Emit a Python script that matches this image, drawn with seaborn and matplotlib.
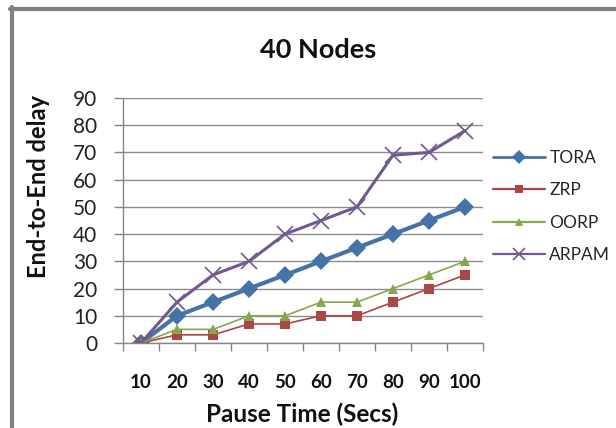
import numpy as np
import pandas as pd
import matplotlib
matplotlib.use("Agg")
import matplotlib.pyplot as plt
from matplotlib.lines import Line2D
import seaborn as sns

categories = ["10", "20", "30", "40", "50", "60", "70", "80", "90", "100"]
tora = [0, 10, 15, 20, 25, 30, 35, 40, 45, 50]
zrp = [0, 3, 3, 7, 7, 10, 10, 15, 20, 25]
oorp = [0, 5, 5, 10, 10, 15, 15, 20, 25, 30]
arpam = [0, 15, 25, 30, 40, 45, 50, 69, 70, 78]
y_ticks = [0, 10, 20, 30, 40, 50, 60, 70, 80, 90]

sns.set_theme(style="white")
plt.rcParams["font.family"] = ["Lato", "DejaVu Sans"]

W, H = 616, 428
fig = plt.figure(figsize=(W / 100, H / 100), dpi=100)
fig.patch.set_facecolor("white")
ax = fig.add_axes([123 / W, 1 - 343 / H, 360 / W, 245 / H])

pos = np.arange(len(categories))
series = [
    ("TORA", tora, "#4572A7", "D", 3.0, 9.5, 0),
    ("ZRP", zrp, "#AA4643", "s", 1.2, 7, 0),
    ("OORP", oorp, "#89A54E", "^", 1.2, 7.5, 0),
    ("ARPAM", arpam, "#71588F", "x", 2.2, 11, 1.2),
]
handles = []
for name, vals, col, mk, lw, ms, mew in series:
    df = pd.DataFrame({"x": pos, "y": vals})
    kw = dict(markeredgewidth=mew) if mk == "x" else dict(markeredgewidth=0)
    sns.lineplot(data=df, x="x", y="y", ax=ax, color=col, linewidth=lw,
                 marker=mk, markersize=ms, markeredgecolor=col, label=name, **kw)
    handles.append(Line2D([0], [0], color=col, linewidth=1.6 if mk != "D" else 2.0,
                          marker=mk, markersize=ms * 0.8, markeredgecolor=col,
                          markeredgewidth=mew if mk == "x" else 0))
ax.get_legend().remove()

ax.set_xlim(-0.5, len(categories) - 0.5)
ax.set_ylim(0, 90)
ax.set_yticks(y_ticks)
ax.set_yticklabels([str(v) for v in y_ticks], fontsize=15, color="#222222")
ax.set_xticks(pos)
ax.set_xticklabels(categories, fontsize=13.5, fontweight="bold", color="#111111")
ax.set_xticks(np.arange(len(categories) + 1) - 0.5, minor=True)
ax.tick_params(axis="x", which="major", length=0, pad=22)
ax.tick_params(axis="x", which="minor", length=6, width=1, color="#868686", direction="out", bottom=True)
ax.tick_params(axis="y", which="major", length=6.5, width=1, color="#868686", direction="out", pad=12, left=True)
ax.yaxis.grid(True, color="#8c8c8c", linewidth=1)
ax.xaxis.grid(False)
ax.set_axisbelow(True)
for s in ["top", "right"]:
    ax.spines[s].set_visible(False)
for s in ["left", "bottom"]:
    ax.spines[s].set_color("#868686")
    ax.spines[s].set_linewidth(1)

ax.set_xlabel("Pause Time (Secs)", fontsize=17.5, fontweight="bold", color="#111111")
ax.xaxis.set_label_coords((302 - 123) / 360, (343 - 414) / 245)
ax.xaxis.label.set_va("center")
ax.set_ylabel("End-to-End delay", fontsize=17, fontweight="bold", color="#111111")
ax.yaxis.set_label_coords((39 - 123) / 360, (343 - 186) / 245)
ax.yaxis.label.set_va("center")

fig.text(318 / W, 1 - 50 / H, "40 Nodes", fontsize=19.5, fontweight="bold",
         ha="center", va="center", color="#111111")

leg = fig.legend(handles, [s[0] for s in series], loc="upper left",
                 bbox_to_anchor=(493 / W, 1 - 150 / H), bbox_transform=fig.transFigure,
                 frameon=False, fontsize=12.5, handlelength=3.0, handletextpad=0.25,
                 labelspacing=0.95, borderpad=0, borderaxespad=0)

fig.add_artist(Line2D([12 / W, 12 / W], [0, 1 - 7 / H], transform=fig.transFigure,
                      color="#808080", linewidth=3.0))
fig.add_artist(Line2D([10 / W, 1], [1 - 9 / H, 1 - 9 / H], transform=fig.transFigure,
                      color="#808080", linewidth=3.0))

fig.savefig("out.png", dpi=100, facecolor="white")
